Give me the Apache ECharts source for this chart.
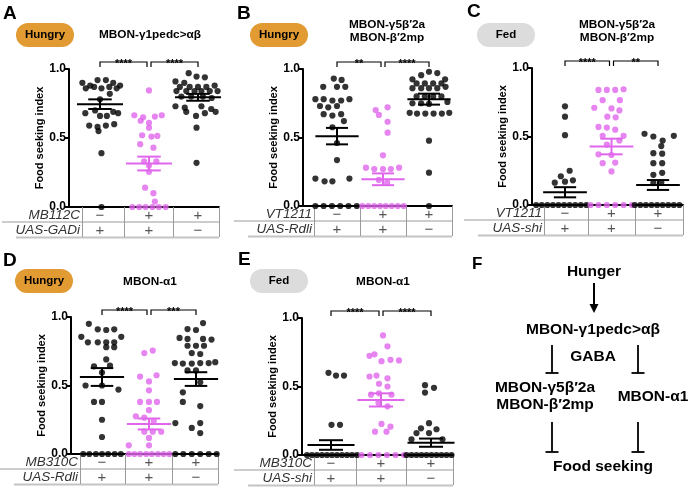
<!DOCTYPE html>
<html>
<head>
<meta charset="utf-8">
<script src="https://cdn.jsdelivr.net/npm/echarts@6/dist/echarts.min.js"></script>
<style>
html, body { margin: 0; padding: 0; background: #fff; }
#chart { width: 690px; height: 488px; }
</style>
</head>
<body>
<div id="chart"></div>
<script>
// ---- data ----
const panelIds = ['A', 'B', 'C', 'D', 'E']
const states = ['Hungry', 'Hungry', 'Fed', 'Hungry', 'Fed']
const titles = ['MBON-γ1pedc>αβ', 'MBON-γ5β′2a\nMBON-β′2mp', 'MBON-γ5β′2a\nMBON-β′2mp', 'MBON-α1', 'MBON-α1']
const driverLabels = ['MB112C', 'VT1211', 'VT1211', 'MB310C', 'MB310C']
const uasLabels = ['UAS-GADi', 'UAS-Rdli', 'UAS-shi', 'UAS-Rdli', 'UAS-shi']
const driverSigns = ['−', '+', '+']
const uasSigns = ['+', '+', '−']
const yTicks = [0, 0.5, 1]

const sigA = ['****', '****']
const sigB = ['**', '****']
const sigC = ['****', '**']
const sigD = ['****', '***']
const sigE = ['****', '****']

const meansA = [0.745, 0.315, 0.795]
const semsA = [0.035, 0.05, 0.025]
const meansB = [0.51, 0.195, 0.78]
const semsB = [0.06, 0.043, 0.04]
const meansC = [0.093, 0.427, 0.146]
const semsC = [0.037, 0.057, 0.036]
const meansD = [0.562, 0.219, 0.547]
const semsD = [0.065, 0.04, 0.05]
const meansE = [0.073, 0.402, 0.09]
const semsE = [0.035, 0.048, 0.03]

// each dot: [offset inside its column, food seeking index]
const dotsA1 = [[-0.36, 0.9], [-0.2, 0.88], [-0.05, 0.92], [0.12, 0.92], [0.27, 0.9], [0.41, 0.88], [-0.29, 0.86], [-0.12, 0.87], [0.03, 0.86], [0.19, 0.87], [0.34, 0.86], [0.2, 0.82], [0.0, 0.78], [-0.3, 0.68], [-0.1, 0.7], [0.0, 0.66], [0.14, 0.66], [0.27, 0.69], [0.37, 0.68], [-0.22, 0.59], [-0.05, 0.58], [0.12, 0.59], [0.29, 0.6], [-0.03, 0.55], [0.03, 0.39], [0.03, 0]]
const dotsA2 = [[0.0, 0.845], [-0.3, 0.665], [-0.12, 0.65], [0.12, 0.655], [0.26, 0.665], [-0.17, 0.625], [0.0, 0.61], [0.0, 0.575], [-0.14, 0.52], [0.05, 0.51], [0.17, 0.515], [-0.18, 0.455], [0.09, 0.43], [-0.1, 0.33], [0.15, 0.33], [0.0, 0.3], [0.0, 0.255], [-0.08, 0.14], [0.09, 0.1], [0.12, 0.04], [-0.34, 0], [-0.2, 0], [-0.07, 0], [0.07, 0], [0.2, 0], [0.34, 0]]
const dotsA3 = [[-0.19, 0.97], [-0.03, 0.945], [0.14, 0.94], [-0.46, 0.91], [-0.28, 0.9], [-0.37, 0.87], [-0.17, 0.87], [0.0, 0.87], [0.17, 0.87], [0.34, 0.88], [-0.44, 0.84], [-0.24, 0.84], [-0.07, 0.84], [0.07, 0.84], [0.24, 0.84], [0.4, 0.84], [-0.34, 0.8], [-0.14, 0.8], [0.1, 0.8], [0.28, 0.79], [-0.46, 0.73], [-0.27, 0.72], [0.07, 0.73], [0.27, 0.71], [-0.24, 0.69], [-0.04, 0.66], [0.14, 0.68], [0.36, 0.69], [-0.03, 0.575], [-0.03, 0.32]]

const dotsB1 = [[-0.07, 0.93], [0.1, 0.92], [-0.3, 0.87], [0.0, 0.87], [0.18, 0.87], [-0.47, 0.78], [-0.29, 0.78], [-0.1, 0.77], [0.09, 0.77], [0.27, 0.78], [-0.37, 0.73], [-0.19, 0.72], [0.0, 0.73], [-0.29, 0.67], [-0.1, 0.66], [0.09, 0.67], [0.15, 0.62], [-0.1, 0.575], [0.0, 0.46], [0.0, 0.335], [-0.47, 0.2], [-0.27, 0.18], [-0.1, 0.18], [0.27, 0.2], [-0.47, 0], [-0.29, 0], [-0.11, 0], [0.07, 0], [0.25, 0], [0.43, 0]]
const dotsB2 = [[-0.16, 0.7], [0.1, 0.72], [-0.09, 0.665], [0.1, 0.615], [0.1, 0.535], [0.0, 0.37], [-0.37, 0.28], [-0.19, 0.27], [0.0, 0.27], [0.17, 0.27], [0.35, 0.28], [-0.09, 0.19], [0.09, 0.17], [-0.45, 0], [-0.32, 0], [-0.19, 0], [-0.06, 0], [0.06, 0], [0.19, 0], [0.32, 0], [0.45, 0]]
const dotsB3 = [[0.0, 0.98], [0.18, 0.97], [-0.17, 0.955], [-0.36, 0.925], [0.35, 0.925], [-0.27, 0.895], [-0.09, 0.895], [0.09, 0.895], [0.27, 0.895], [-0.36, 0.86], [-0.17, 0.86], [0.0, 0.86], [0.18, 0.86], [0.36, 0.87], [-0.27, 0.8], [-0.09, 0.8], [0.09, 0.8], [0.27, 0.8], [-0.36, 0.75], [-0.17, 0.75], [0.0, 0.745], [0.4, 0.76], [-0.42, 0.68], [-0.26, 0.675], [-0.08, 0.675], [0.1, 0.675], [0.28, 0.675], [0.44, 0.68], [0.0, 0.477], [0.0, 0.243], [0.0, 0]]

const dotsC1 = [[0.0, 0.72], [0.0, 0.645], [0.0, 0.51], [0.1, 0.25], [-0.09, 0.21], [-0.22, 0.163], [0.0, 0.17], [0.17, 0.18], [-0.62, 0], [-0.5, 0], [-0.38, 0], [-0.26, 0], [-0.14, 0], [-0.02, 0], [0.1, 0], [0.22, 0], [0.34, 0], [0.46, 0]]
const dotsC2 = [[-0.28, 0.84], [-0.1, 0.84], [0.08, 0.84], [0.26, 0.845], [-0.19, 0.765], [0.18, 0.765], [-0.37, 0.71], [0.0, 0.705], [0.17, 0.69], [-0.09, 0.645], [0.09, 0.64], [-0.28, 0.57], [-0.1, 0.565], [0.08, 0.55], [-0.19, 0.505], [0.26, 0.505], [0.17, 0.47], [-0.1, 0.44], [-0.28, 0.37], [0.0, 0.365], [-0.19, 0.305], [0.08, 0.31], [0.0, 0.245], [-0.45, 0], [-0.28, 0], [-0.1, 0], [0.08, 0], [0.26, 0], [0.44, 0]]
const dotsC3 = [[-0.29, 0.52], [-0.1, 0.5], [0.1, 0.47], [0.34, 0.505], [0.07, 0.43], [-0.1, 0.378], [0.09, 0.375], [-0.1, 0.305], [0.09, 0.305], [-0.1, 0.22], [0.09, 0.235], [-0.1, 0.16], [0.07, 0.165], [-0.5, 0], [-0.38, 0], [-0.26, 0], [-0.14, 0], [-0.02, 0], [0.1, 0], [0.22, 0], [0.34, 0], [0.46, 0]]

const dotsD1 = [[-0.28, 0.95], [-0.09, 0.91], [0.09, 0.905], [0.26, 0.91], [-0.44, 0.855], [0.41, 0.855], [-0.3, 0.815], [-0.09, 0.815], [0.09, 0.815], [0.26, 0.815], [0.09, 0.78], [0.26, 0.78], [0.09, 0.69], [-0.17, 0.64], [0.17, 0.645], [0.0, 0.594], [-0.35, 0.5], [0.0, 0.5], [0.35, 0.47], [-0.17, 0.38], [0.0, 0.38], [0.0, 0.25], [0.0, 0.124], [-0.4, 0], [-0.27, 0], [-0.13, 0], [0.0, 0], [0.13, 0], [0.27, 0], [0.4, 0]]
const dotsD2 = [[-0.1, 0.737], [0.08, 0.755], [-0.19, 0.565], [0.16, 0.575], [0.0, 0.53], [0.0, 0.465], [-0.19, 0.38], [0.0, 0.38], [0.17, 0.38], [0.0, 0.32], [-0.28, 0.275], [-0.1, 0.265], [0.1, 0.24], [-0.1, 0.163], [0.08, 0.163], [0.26, 0.163], [0.0, 0.117], [-0.43, 0.063], [0.0, 0.063], [-0.43, 0], [-0.31, 0], [-0.19, 0], [-0.06, 0], [0.06, 0], [0.19, 0], [0.31, 0], [0.43, 0]]
const dotsD3 = [[0.15, 0.956], [-0.18, 0.912], [0.0, 0.905], [-0.35, 0.847], [-0.18, 0.84], [0.15, 0.84], [0.33, 0.835], [-0.18, 0.79], [0.0, 0.79], [0.17, 0.79], [-0.09, 0.737], [0.09, 0.73], [-0.45, 0.664], [-0.28, 0.66], [-0.09, 0.66], [0.09, 0.664], [0.27, 0.664], [0.41, 0.67], [-0.18, 0.61], [0.0, 0.61], [0.09, 0.523], [-0.28, 0.45], [-0.28, 0.38], [0.09, 0.35], [-0.44, 0.226], [0.09, 0.226], [-0.09, 0.19], [0.09, 0.153], [-0.44, 0], [-0.27, 0], [-0.09, 0], [0.09, 0], [0.27, 0], [0.44, 0]]

const dotsE1 = [[-0.05, 0.6], [0.1, 0.58], [0.26, 0.58], [0.01, 0.22], [0.18, 0.22], [-0.48, 0], [-0.38, 0], [-0.28, 0], [-0.18, 0], [-0.08, 0], [0.02, 0], [0.12, 0], [0.22, 0], [0.32, 0], [0.42, 0], [0.52, 0]]
const dotsE2 = [[0.04, 0.873], [0.13, 0.793], [-0.23, 0.724], [-0.13, 0.735], [0.01, 0.685], [0.19, 0.695], [0.36, 0.69], [-0.23, 0.573], [-0.09, 0.58], [0.13, 0.56], [-0.04, 0.52], [0.13, 0.5], [-0.2, 0.44], [-0.04, 0.45], [0.21, 0.44], [-0.05, 0.38], [0.13, 0.355], [0.01, 0.227], [0.19, 0.207], [-0.12, 0.17], [0.11, 0.17], [-0.39, 0], [-0.22, 0], [-0.05, 0], [0.12, 0], [0.29, 0], [0.46, 0]]
const dotsE3 = [[-0.12, 0.51], [0.06, 0.49], [-0.12, 0.456], [-0.04, 0.232], [-0.2, 0.195], [0.11, 0.188], [-0.29, 0.16], [-0.04, 0.16], [0.23, 0.115], [-0.39, 0.115], [-0.49, 0], [-0.39, 0], [-0.29, 0], [-0.19, 0], [-0.09, 0], [0.01, 0], [0.11, 0], [0.21, 0], [0.31, 0], [0.41, 0]]

const fNodes = ['Hunger', 'MBON-γ1pedc>αβ', 'GABA', 'MBON-γ5β′2a\nMBON-β′2mp', 'MBON-α1', 'Food seeking']

const panelDots = { A: [dotsA1, dotsA2, dotsA3], B: [dotsB1, dotsB2, dotsB3], C: [dotsC1, dotsC2, dotsC3], D: [dotsD1, dotsD2, dotsD3], E: [dotsE1, dotsE2, dotsE3] }
const panelMeans = { A: meansA, B: meansB, C: meansC, D: meansD, E: meansE }
const panelSems = { A: semsA, B: semsB, C: semsC, D: semsD, E: semsE }
const panelSig = { A: sigA, B: sigB, C: sigC, D: sigD, E: sigE }

// ---- layout (pixels) ----
const FONT = '"Liberation Sans", Arial, Helvetica, sans-serif'
const groupColors = ['#000', '#E066EC', '#000']
const stateColors = { Hungry: '#E29A33', Fed: '#DCDCDC' }
const layout = {
  A: { left: 69, right: 219, top: 69, bottom: 207, c0: 100, step: 49, tab: 82, letter: [3, 14], pill: [16, 23], title: [150, 35] },
  B: { left: 303, right: 452, top: 69, bottom: 206, c0: 337, step: 46, tab: 314, letter: [237, 14], pill: [250, 23], title: [387, 31] },
  C: { left: 532, right: 683, top: 68, bottom: 205, c0: 565, step: 46.5, tab: 544, letter: [467, 12], pill: [477, 23], title: [617, 31] },
  D: { left: 71, right: 218, top: 317, bottom: 454, c0: 102, step: 47, tab: 80, letter: [3, 261], pill: [15, 269], title: [150, 282] },
  E: { left: 302, right: 453, top: 318, bottom: 455, c0: 331, step: 50, tab: 314, letter: [238, 260], pill: [250, 269], title: [383, 282] }
}

const option = {
  animation: false,
  textStyle: { fontFamily: FONT },
  grid: [],
  xAxis: [],
  yAxis: [],
  series: [],
  graphic: []
}

function txt(x, y, text, size, extra) {
  return {
    type: 'text', x, y, silent: true,
    style: Object.assign({ text, fontSize: size, fontWeight: 'bold', fontFamily: FONT, fill: '#000', align: 'center', verticalAlign: 'middle' }, extra || {})
  }
}
function seg(x1, y1, x2, y2, color, w) {
  return { type: 'line', silent: true, shape: { x1, y1, x2, y2 }, style: { stroke: color || '#000', lineWidth: w || 1.3 } }
}

panelIds.forEach((id, i) => {
  const lay = layout[id]
  const xMin = (lay.left - lay.c0) / lay.step
  const xMax = (lay.right - lay.c0) / lay.step
  const tabX = (lay.tab - lay.c0) / lay.step
  const means = panelMeans[id]
  const sems = panelSems[id]

  option.grid.push({
    left: lay.left, top: lay.top, width: lay.right - lay.left, height: lay.bottom - lay.top,
    containLabel: false, outerBoundsMode: 'none'
  })
  option.xAxis.push({
    gridIndex: i, type: 'value', min: xMin, max: xMax,
    axisLine: { show: true, onZero: false, lineStyle: { color: '#000', width: 2 } },
    axisTick: { show: true, customValues: [tabX, 0.5, 1.5, xMax], length: 30, lineStyle: { color: '#9a9a9a', width: 1 } },
    axisLabel: {
      customValues: [0, 1, 2], margin: 1, fontSize: 15, lineHeight: 15, color: '#555',
      formatter: v => driverSigns[v] + '\n' + uasSigns[v]
    },
    splitLine: { show: false }
  })
  option.yAxis.push({
    gridIndex: i, type: 'value', min: 0, max: 1, interval: 0.5,
    name: 'Food seeking index', nameLocation: 'middle', nameGap: 20,
    nameTextStyle: { fontWeight: 'bold', fontSize: 11, color: '#000' },
    axisLine: { show: true, onZero: false, lineStyle: { color: '#000', width: 2 } },
    axisTick: { show: true, length: 4, lineStyle: { color: '#000', width: 2 } },
    axisLabel: { customValues: yTicks, formatter: v => v.toFixed(1), fontWeight: 'bold', fontSize: 12, color: '#000', margin: 3 },
    splitLine: { show: false }
  })

  panelDots[id].forEach((dots, g) => {
    option.series.push({
      type: 'scatter', xAxisIndex: i, yAxisIndex: i, silent: true,
      symbolSize: 6.2, itemStyle: { color: groupColors[g] },
      data: dots.map(([dx, y]) => [g + dx, y])
    })
  })

  // mean ± SEM
  option.series.push({
    type: 'custom', xAxisIndex: i, yAxisIndex: i, silent: true, z: 5,
    data: means.map((m, g) => [g, m, sems[g]]),
    renderItem: (params, api) => {
      const g = api.value(0), m = api.value(1), s = api.value(2)
      const color = groupColors[g]
      const l = api.coord([g - 0.47, m]), r = api.coord([g + 0.47, m])
      const hi = api.coord([g, m + s]), lo = api.coord([g, m - s])
      const cl = api.coord([g - 0.24, m])[0], cr = api.coord([g + 0.24, m])[0]
      const st = { stroke: color, lineWidth: 2 }
      return {
        type: 'group', children: [
          { type: 'line', shape: { x1: l[0], y1: l[1], x2: r[0], y2: r[1] }, style: st },
          { type: 'line', shape: { x1: hi[0], y1: hi[1], x2: lo[0], y2: lo[1] }, style: st },
          { type: 'line', shape: { x1: cl, y1: hi[1], x2: cr, y2: hi[1] }, style: st },
          { type: 'line', shape: { x1: cl, y1: lo[1], x2: cr, y2: lo[1] }, style: st }
        ]
      }
    }
  })

  // header: letter, state pill, title
  const G = option.graphic
  G.push(txt(lay.letter[0], lay.letter[1], id, 19, { align: 'left' }))
  G.push({ type: 'rect', silent: true, shape: { x: lay.pill[0], y: lay.pill[1], width: 58, height: 24, r: 12 }, style: { fill: stateColors[states[i]] } })
  G.push(txt(lay.pill[0] + 29, lay.pill[1] + 12, states[i], 11.5))
  G.push(txt(lay.title[0], lay.title[1], titles[i], 11.8, { lineHeight: 12.5 }))

  // significance brackets
  const by = lay.top - 7
  const cx = g => lay.c0 + g * lay.step
  const spans = [[cx(0), cx(1) - 2], [cx(1) + 2, cx(2)]]
  spans.forEach(([x1, x2], k) => {
    G.push({ type: 'polyline', silent: true, shape: { points: [[x1, by + 5], [x1, by], [x2, by], [x2, by + 5]] }, style: { stroke: '#000', lineWidth: 1.2, fill: null } })
    G.push(txt((x1 + x2) / 2, by + 7, panelSig[id][k], 11, { verticalAlign: 'bottom' }))
  })

  // genotype table
  const tabL = lay.tab - 80
  G.push(seg(tabL, lay.bottom + 15, lay.right, lay.bottom + 15, '#9a9a9a', 1))
  G.push(seg(tabL + 14, lay.bottom + 30.5, lay.right, lay.bottom + 30.5, '#c4c4c4', 2))
  const lx = lay.tab - 2
  G.push(txt(lx, lay.bottom + 8.5, driverLabels[i], 13.5, { align: 'right', fontWeight: 'normal', fontStyle: 'italic', fill: '#333' }))
  G.push(txt(lx, lay.bottom + 23, uasLabels[i], 13.5, { align: 'right', fontWeight: 'normal', fontStyle: 'italic', fill: '#333' }))
})

// panel F: model
const G = option.graphic
G.push(txt(472, 264, 'F', 17, { align: 'left' }))
G.push(txt(594, 272, fNodes[0], 15.5))
G.push(seg(594, 283, 594, 306, '#000', 2))
G.push({ type: 'polygon', silent: true, shape: { points: [[589.5, 304], [598.5, 304], [594, 313]] }, style: { fill: '#000' } })
G.push(txt(593, 330, fNodes[1], 15.5))
G.push(txt(593, 357, fNodes[2], 15.5))
G.push(txt(545, 396, fNodes[3], 15.5, { lineHeight: 17.5 }))
G.push(txt(653, 397, fNodes[4], 15.5))
G.push(txt(603, 467, fNodes[5], 15.5))
;[[552, 345, 373], [638, 345, 373], [552, 422, 452], [638, 422, 452]].forEach(([x, y1, y2]) => {
  G.push(seg(x, y1, x, y2, '#000', 1.8))
  G.push(seg(x - 6.5, y2, x + 6.5, y2, '#000', 1.8))
})

const chart = echarts.init(document.getElementById('chart'))
chart.setOption(option)
</script>
</body>
</html>
